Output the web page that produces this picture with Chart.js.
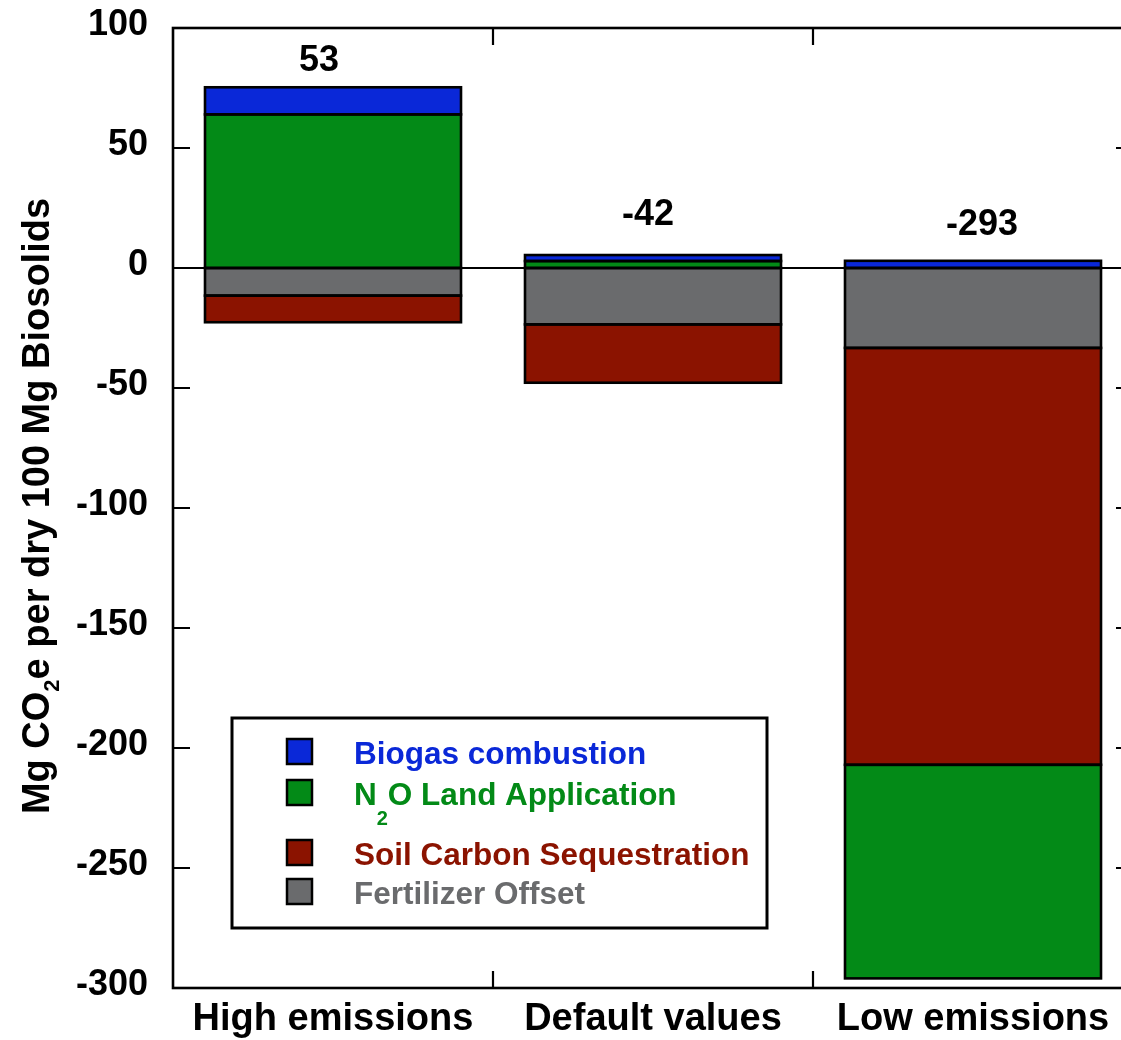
<!DOCTYPE html>
<html><head><meta charset="utf-8">
<script src="https://cdn.jsdelivr.net/npm/chart.js@4/dist/chart.umd.min.js"></script>
<style>html,body{margin:0;padding:0;background:#fff;overflow:hidden;} #wrap{width:1143px;height:1040px;}</style>
</head><body><div id="wrap"><canvas id="c" width="1143" height="1040"></canvas></div>
<script>
// ---- data ----
const categories = ['High emissions', 'Default values', 'Low emissions'];
const fertilizerOffset = [-11.5, -23.5, -33.3];
const soilCarbonSeq = [-11.1, -24.3, -173.7];
const n2oLandApp = [64.0, 2.9, -89.0];
const biogasCombustion = [11.3, 2.5, 3.0];
const netLabels = ['53', '-42', '-293'];
const yTickValues = [100, 50, 0, -50, -100, -150, -200, -250, -300];
const yTitleParts = [['Mg CO', false], ['2', true], ['e per dry 100 Mg Biosolids', false]];
const legendEntries = [
  { parts: [['Biogas combustion', false]], color: '#0a28d8' },
  { parts: [['N', false], ['2', true], ['O Land Application', false]], color: '#038a17' },
  { parts: [['Soil Carbon Sequestration', false]], color: '#8b1300' },
  { parts: [['Fertilizer Offset', false]], color: '#6a6b6d' }
];

// ---- styles ----
const FONT = "'Liberation Sans', Arial, sans-serif";
const COL = { blue: '#0a28d8', green: '#038a17', red: '#8b1300', gray: '#6a6b6d' };
const labelLift = [16, 30, 26];
const labelShift = [-14, -5, 9];

function drawParts(ctx, parts, x, y, size, subSize, subDrop) {
  let cx = x;
  for (const [t, sub] of parts) {
    ctx.font = 'bold ' + (sub ? subSize : size) + 'px ' + FONT;
    ctx.fillText(t, cx, sub ? y + subDrop : y);
    cx += ctx.measureText(t).width;
  }
  return cx;
}
function partsWidth(ctx, parts, size, subSize) {
  let w = 0;
  for (const [t, sub] of parts) {
    ctx.font = 'bold ' + (sub ? subSize : size) + 'px ' + FONT;
    w += ctx.measureText(t).width;
  }
  return w;
}

const decor = {
  id: 'decor',
  beforeDatasetsDraw(chart) {
    const { ctx, chartArea: a, scales: { y } } = chart;
    ctx.save();
    ctx.strokeStyle = '#000'; ctx.lineWidth = 2;
    const y0 = y.getPixelForValue(0);
    ctx.beginPath(); ctx.moveTo(a.left, y0); ctx.lineTo(a.right, y0); ctx.stroke();
    ctx.restore();
  },
  afterDatasetsDraw(chart) {
    const { ctx } = chart;
    ctx.save();
    ctx.strokeStyle = '#000'; ctx.lineWidth = 2.6;
    chart.data.datasets.forEach((d, i) => {
      chart.getDatasetMeta(i).data.forEach(el => {
        const top = Math.min(el.y, el.base), h = Math.abs(el.base - el.y);
        if (h < 0.5) return;
        ctx.strokeRect(el.x - el.width / 2, top, el.width, h);
      });
    });
    ctx.restore();
  },
  afterDraw(chart) {
    const { ctx, chartArea: a, scales: { x, y } } = chart;
    ctx.save();
    ctx.strokeStyle = '#000'; ctx.lineWidth = 2.6;
    ctx.strokeRect(a.left, a.top, a.right - a.left, a.bottom - a.top);
    ctx.lineWidth = 2.2;
    const TL = 17;
    ctx.beginPath();
    for (const v of yTickValues) {
      const py = y.getPixelForValue(v);
      ctx.moveTo(a.left, py); ctx.lineTo(a.left + TL, py);
      ctx.moveTo(a.right, py); ctx.lineTo(a.right - TL, py);
    }
    for (let i = 0; i < categories.length - 1; i++) {
      const px = (x.getPixelForValue(i) + x.getPixelForValue(i + 1)) / 2;
      ctx.moveTo(px, a.top); ctx.lineTo(px, a.top + TL);
      ctx.moveTo(px, a.bottom); ctx.lineTo(px, a.bottom - TL);
    }
    ctx.stroke();

    // net labels above bars
    ctx.fillStyle = '#000';
    ctx.textAlign = 'center'; ctx.textBaseline = 'alphabetic';
    ctx.font = 'bold 36px ' + FONT;
    const metas = chart.data.datasets.map((d, i) => chart.getDatasetMeta(i));
    for (let i = 0; i < categories.length; i++) {
      let top = Infinity;
      metas.forEach(m => { const el = m.data[i]; top = Math.min(top, el.y, el.base); });
      ctx.fillText(netLabels[i], x.getPixelForValue(i) + labelShift[i], top - labelLift[i]);
    }

    // y title with subscript
    ctx.textAlign = 'left';
    const tw = partsWidth(ctx, yTitleParts, 38, 22);
    ctx.save();
    ctx.translate(49, 506);
    ctx.rotate(-Math.PI / 2);
    drawParts(ctx, yTitleParts, -tw / 2, 0, 38, 22, 10);
    ctx.restore();

    // legend box
    ctx.lineWidth = 3;
    ctx.strokeRect(232, 718, 535, 210);
    const rowsY = [764, 805, 865, 904];
    legendEntries.forEach((e, i) => {
      const by = rowsY[i] - 25;
      ctx.fillStyle = e.color;
      ctx.fillRect(287, by, 25, 25);
      ctx.lineWidth = 2.5; ctx.strokeStyle = '#000';
      ctx.strokeRect(287, by, 25, 25);
      ctx.fillStyle = e.color;
      drawParts(ctx, e.parts, 354, rowsY[i], 31.5, 20, 20);
    });
    ctx.restore();
  }
};

const ds = (label, data, color) => ({
  label, data, backgroundColor: color, borderWidth: 0, inflateAmount: 0,
  barPercentage: 0.8, categoryPercentage: 1.0
});

new Chart(document.getElementById('c'), {
  type: 'bar',
  data: {
    labels: categories,
    datasets: [
      ds('Fertilizer Offset', fertilizerOffset, COL.gray),
      ds('Soil Carbon Sequestration', soilCarbonSeq, COL.red),
      ds('N2O Land Application', n2oLandApp, COL.green),
      ds('Biogas combustion', biogasCombustion, COL.blue)
    ]
  },
  options: {
    responsive: false, animation: false, devicePixelRatio: 1,
    layout: { padding: { top: 28, right: 10, left: 0, bottom: 0 } },
    plugins: { legend: { display: false }, tooltip: { enabled: false } },
    scales: {
      x: {
        stacked: true,
        grid: { display: false, drawTicks: false }, border: { display: false },
        ticks: { color: '#000', font: { family: FONT, size: 38, weight: 'bold' }, padding: 9, maxRotation: 0 },
        afterFit(s) { s.height = 52; s.paddingLeft = 0; s.paddingRight = 0; }
      },
      y: {
        stacked: true, min: -300, max: 100,
        grid: { display: false, drawTicks: false }, border: { display: false },
        afterBuildTicks(s) { s.ticks = yTickValues.map(v => ({ value: v })); },
        ticks: { color: '#000', font: { family: FONT, size: 36, weight: 'bold' }, padding: 25, labelOffset: -3 },
        afterFit(s) { s.width = 173; s.paddingTop = 0; s.paddingBottom = 0; }
      }
    }
  },
  plugins: [decor]
});
</script>
</body></html>
